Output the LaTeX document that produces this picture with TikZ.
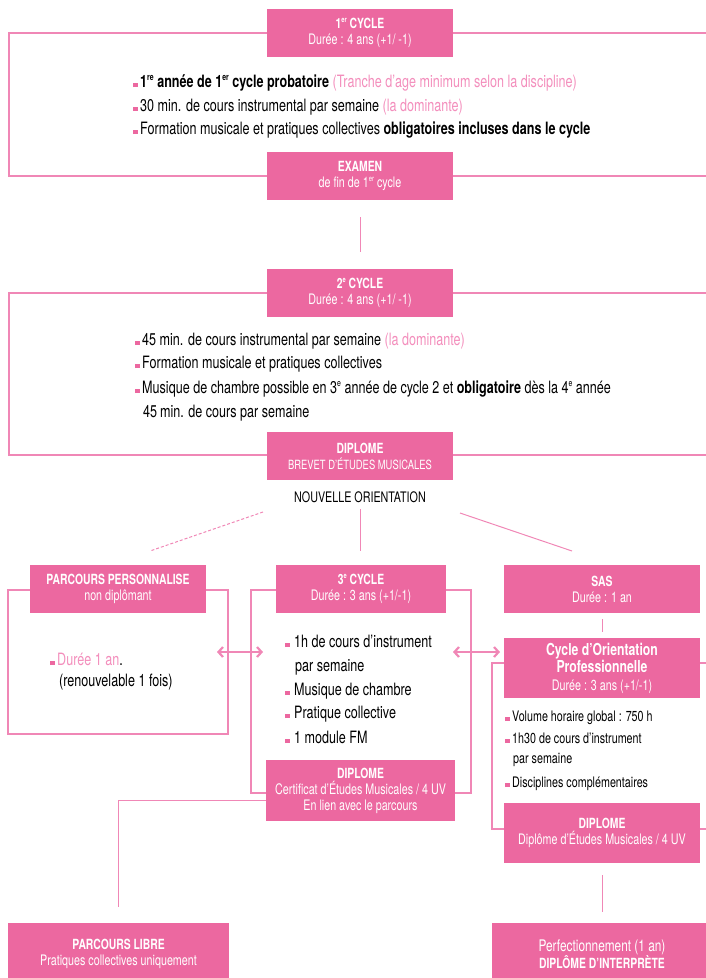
\documentclass[tikz,border=0pt]{standalone}
\usepackage{fontspec}
\usepackage{graphicx}
\setmainfont{TeX Gyre Heros}[FakeStretch=0.74]
\usetikzlibrary{arrows.meta}
\definecolor{pk}{RGB}{236,104,160}
\definecolor{pkl}{RGB}{240,135,182}
\definecolor{pkt}{RGB}{243,142,188}
\newcommand\pbul{\textcolor{pk}{\rule{4.5pt}{4.5pt}}\hspace{2.5pt}}
\newcommand\subf{\fontsize{14.5}{16}\selectfont}
\newcommand\ssup[1]{\raisebox{0.75ex}{\scalebox{0.55}{#1}}}
\begin{document}
\begin{tikzpicture}[x=1pt,y=-1pt,
  frame/.style={draw=pkl,line width=1.1pt},
  conn/.style={draw=pkl,line width=1pt},
  dbl/.style={draw=pkl,line width=2.2pt,{Straight Barb[length=4.5pt,width=10pt]}-{Straight Barb[length=4.5pt,width=10pt]}},
  box/.style={fill=pk,text=white,inner sep=0pt,align=center,font=\fontsize{14}{16}\selectfont},
  body/.style={anchor=base west,inner sep=0pt,font=\fontsize{17}{19}\selectfont},
  small/.style={anchor=base west,inner sep=0pt,font=\fontsize{14.5}{17}\selectfont}]
\useasboundingbox (0,0) rectangle (706,978);
% frames
\draw[frame] (720,33) -- (9,33) -- (9,176) -- (720,176);
\draw[frame] (720,293) -- (9,293) -- (9,455) -- (720,455);
\draw[frame] (8,590) rectangle (228,734);
\draw[frame] (251,590) rectangle (471,793);
\draw[frame] (720,663) -- (492,663) -- (492,829) -- (720,829);
% boxes
\node[box,minimum width=186,minimum height=48] (c1) at (360,33) {\textbf{1\ssup{er} CYCLE}\\{\subf Durée : 4 ans (+1/ -1)}};
\node[box,minimum width=186,minimum height=48] (exam) at (360,176) {\textbf{EXAMEN}\\{\subf de fin de 1\ssup{er} cycle}};
\node[box,minimum width=186,minimum height=48] (c2) at (360,293) {\textbf{2\ssup{e} CYCLE}\\{\subf Durée : 4 ans (+1/ -1)}};
\node[box,minimum width=186,minimum height=48] (bem) at (360,456) {\textbf{DIPLOME}\\{\fontsize{12.7}{16}\selectfont BREVET D’ÉTUDES MUSICALES}};
\node[inner sep=1pt,font=\fontsize{14.5}{17}\selectfont,anchor=base] (orient) at (360,502) {NOUVELLE ORIENTATION};
\node[box,minimum width=176,minimum height=48] (pp) at (118,589) {\textbf{PARCOURS PERSONNALISE}\\{\subf non diplômant}};
\node[box,minimum width=170,minimum height=48] (c3) at (361,589) {\textbf{3\ssup{e} CYCLE}\\{\subf Durée : 3 ans (+1/-1)}};
\node[box,minimum width=189,minimum height=61] (cem) at (360.5,790.5) {\textbf{DIPLOME}\\{\subf Certificat d’Études Musicales / 4 UV}\\{\subf En lien avec le parcours}};
\node[box,minimum width=196,minimum height=48] (sas) at (602,589) {\textbf{SAS}\\{\subf Durée : 1 an}};
\node[box,minimum width=196,minimum height=60,font=\fontsize{16.5}{17.5}\selectfont] (cop) at (602,668) {\textbf{Cycle d’Orientation}\\\textbf{Professionnelle}\\{\subf Durée : 3 ans (+1/-1)}};
\node[box,minimum width=196,minimum height=60] (dem) at (602,833) {\textbf{DIPLOME}\\{\subf Diplôme d’Études Musicales / 4 UV}};
\node[box,minimum width=221,minimum height=62] (libre) at (118.5,954) {\textbf{PARCOURS LIBRE}\\{\subf Pratiques collectives uniquement}};
\node[box,minimum width=220,minimum height=62] (perf) at (602,954) {{\fontsize{16}{17}\selectfont Perfectionnement (1 an)}\\\textbf{DIPLÔME D’INTERPRÈTE}};
% texts cycle 1
\node[body] (t11) at (133,87) {\pbul\textbf{1\ssup{re} année de 1\ssup{er} cycle probatoire} \textcolor{pkt}{(Tranche d’age minimum selon la discipline)}};
\node[body] (t12) at (133,111) {\pbul 30 min. de cours instrumental par semaine \textcolor{pkt}{(la dominante)}};
\node[body] (t13) at (133,134) {\pbul Formation musicale et pratiques collectives \textbf{obligatoires incluses dans le cycle}};
% texts cycle 2
\node[body] (t21) at (135,345) {\pbul 45 min. de cours instrumental par semaine \textcolor{pkt}{(la dominante)}};
\node[body] (t22) at (135,368) {\pbul Formation musicale et pratiques collectives};
\node[body] (t23) at (135,393) {\pbul Musique de chambre possible en 3\ssup{e} année de cycle 2 et \textbf{obligatoire} dès la 4\ssup{e} année};
\node[body] (t24) at (143,417) {45\,min. de cours par semaine};
% parcours perso
\node[body] (tp1) at (50,665) {\pbul\textcolor{pkt}{Durée 1 an}.};
\node[body] (tp2) at (59,686) {(renouvelable 1 fois)};
% cycle 3
\node[body] (t31) at (285,647) {\pbul\hspace{2pt}1h de cours d’instrument};
\node[body] (t32) at (295,671) {par semaine};
\node[body] (t33) at (285,695) {\pbul\hspace{2pt}Musique de chambre};
\node[body] (t34) at (285,718) {\pbul\hspace{2pt}Pratique collective};
\node[body] (t35) at (285,743) {\pbul\hspace{2pt}1 module FM};
% COP
\node[small] (to1) at (505,721) {\pbul Volume horaire global : 750 h};
\node[small] (to2) at (505,743) {\pbul 1h30 de cours d’instrument};
\node[small] (to3) at (513,763) {par semaine};
\node[small] (to4) at (505,787) {\pbul Disciplines complémentaires};
% connectors
\draw[conn,shorten <=17pt,shorten >=17pt] (exam) -- (c2);
\coordinate (dA) at (263,512); \coordinate (dB) at (150,551);
\coordinate (sA) at (460,513); \coordinate (sB) at (572,551);
\draw[conn,dashed,dash pattern=on 3pt off 2pt] (dA) -- (dB);
\draw[conn] (sA) -- (sB);
\draw[conn] (orient.south) ++(0,6) -- (360,551);
\coordinate (a1) at (217,652); \coordinate (a2) at (263,652);
\coordinate (a3) at (453,652); \coordinate (a4) at (500,652);
\draw[dbl] (a1) -- (a2);
\draw[dbl] (a3) -- (a4);
\draw[conn,shorten <=6pt,shorten >=6pt] (sas) -- (cop);
\draw[conn,shorten <=12pt,shorten >=11pt] (dem.south) -- (dem.south |- perf.north);
\coordinate (lB) at (118,907);
\draw[conn] (cem.west) ++(0,9.5) -| (lB);
\end{tikzpicture}
\end{document}
